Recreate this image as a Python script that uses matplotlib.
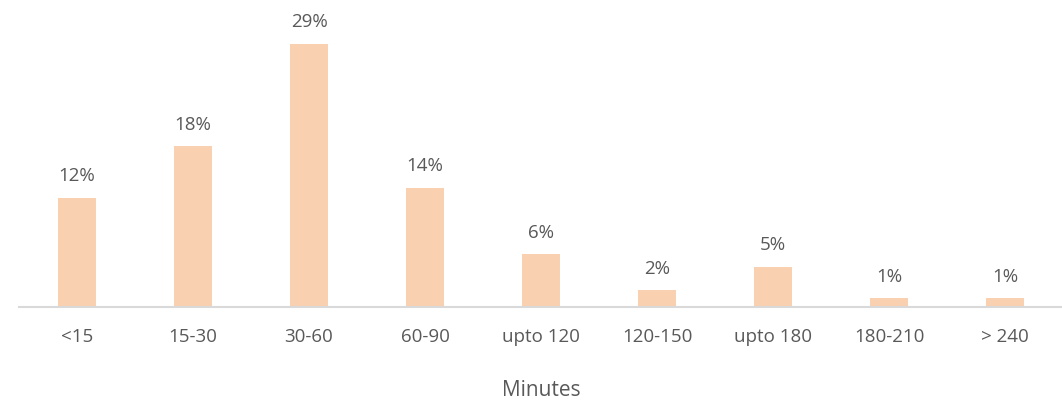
import numpy as np
import matplotlib.pyplot as plt

# time spent in minutes, share of respondents (%) as drawn, and the printed labels
categories = ['<15', '15-30', '30-60', '60-90', 'upto 120', '120-150', 'upto 180', '180-210', '> 240']
shares = [12.0, 17.7, 29.0, 13.1, 5.8, 1.85, 4.4, 0.95, 0.95]
share_labels = ['12%', '18%', '29%', '14%', '6%', '2%', '5%', '1%', '1%']

plt.rcParams['font.family'] = ['Open Sans', 'DejaVu Sans']
txt = '#595959'

fig = plt.figure(figsize=(10.62, 4.04), dpi=100)
ax = fig.add_axes([19/1062, 97/404, 1044/1062, 307/404])

x = np.arange(len(categories))
ax.bar(x, shares, width=0.32, color='#F9D0B0')

for xi, v, lab in zip(x, shares, share_labels):
    ax.annotate(lab, (xi, v), xytext=(0, 12), textcoords='offset points',
                ha='center', va='baseline', fontsize=13.5, color=txt)

ax.set_xlim(-0.5, len(categories) - 0.5)
ax.set_ylim(0, 33.8)
ax.set_xticks(x)
ax.set_xticklabels(categories, fontsize=13.5, color=txt)
ax.tick_params(axis='x', length=0, pad=15)
ax.set_yticks([])
ax.set_xlabel('Minutes', fontsize=15, color=txt, va='center')
ax.xaxis.set_label_coords(0.5, -83/307)

for s in ['top', 'right', 'left']:
    ax.spines[s].set_visible(False)
ax.spines['bottom'].set_color('#D9D9D9')
ax.spines['bottom'].set_linewidth(1.5)

plt.savefig('out.png')
